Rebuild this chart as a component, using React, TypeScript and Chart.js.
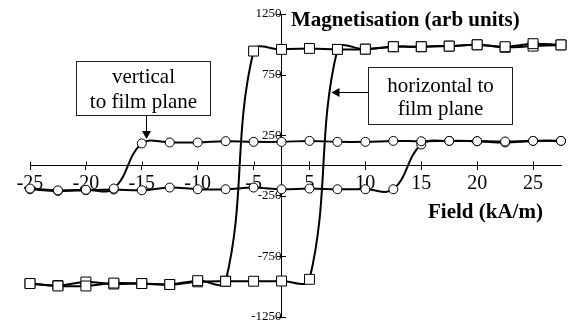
import React, { useEffect, useRef } from 'react';
import { Chart, registerables } from 'chart.js';

Chart.register(...registerables);

// Category positions of the field axis (kA/m), as spaced in the original figure
const FIELD = ['-25', '-22.5', '-20', '-17.5', '-15', '-12.5', '-10', '-7.5', '-5', '0', '5', '7.5', '10', '12.5', '15', '17.5', '20', '22.5', '25', '27.5'];
const FIELD_REVERSED = [...FIELD].reverse();

const Y_MIN = -1250;
const Y_MAX = 1250;
const Y_STEP = 500;

// "horizontal to film plane" (squares): ascending branch in FIELD order
const HORIZ_ASCENDING = [-974, -990, -961, -978, -974, -982, -960, -955, -955, -953, -939, 958, 960, 980, 980, 985, 996, 975, 985, 995];
// descending branch in FIELD_REVERSED order (27.5 -> -25)
const HORIZ_DESCENDING = [995, 1005, 980, 996, 985, 980, 980, 960, 958, 966, 958, 944, -955, -950, -982, -974, -970, -994, -994, -974];

// "vertical to film plane" (circles): ascending branch in FIELD order
const VERT_ASCENDING = [-196, -210, -204, -198, -204, -182, -196, -196, -182, -196, -190, -196, -196, -196, 173, 203, 200, 190, 203, 203];
// descending branch in FIELD_REVERSED order
const VERT_DESCENDING = [203, 203, 198, 201, 203, 200, 203, 195, 195, 203, 195, 195, 201, 190, 190, 182, -190, -200, -205, -190];

const Y_TITLE = 'Magnetisation (arb units)';
const X_TITLE = 'Field (kA/m)';
const NOTE_VERTICAL = ['vertical', 'to film plane'];
const NOTE_HORIZONTAL = ['horizontal to', 'film plane'];

const SERIF = '"Liberation Serif", "Times New Roman", Times, serif';

function arrowHead(ctx: CanvasRenderingContext2D, tipX: number, tipY: number, dir: 'down' | 'left') {
  ctx.beginPath();
  if (dir === 'down') {
    ctx.moveTo(tipX, tipY);
    ctx.lineTo(tipX - 4.5, tipY - 8);
    ctx.lineTo(tipX + 4.5, tipY - 8);
  } else {
    ctx.moveTo(tipX, tipY);
    ctx.lineTo(tipX + 8, tipY - 4.5);
    ctx.lineTo(tipX + 8, tipY + 4.5);
  }
  ctx.closePath();
  ctx.fill();
}

const overlayPlugin = {
  id: 'overlay',
  beforeDatasetsDraw(chart: any) {
    const ctx: CanvasRenderingContext2D = chart.ctx;
    const xs = chart.scales.x;
    const ys = chart.scales.y;
    const axisX = xs.getPixelForValue(FIELD.indexOf('0'));
    const axisY = ys.getPixelForValue(0);
    ctx.save();
    ctx.strokeStyle = '#000';
    ctx.lineWidth = 1;
    ctx.beginPath();
    ys.ticks.forEach((t: any) => {
      const py = Math.round(ys.getPixelForValue(t.value)) + 0.5;
      ctx.moveTo(axisX, py);
      ctx.lineTo(axisX + 4.5, py);
    });
    xs.ticks.forEach((_t: any, i: number) => {
      if (i % 2 !== 0) return;
      const px = Math.round(xs.getPixelForTick(i)) + 0.5;
      ctx.moveTo(px, axisY);
      ctx.lineTo(px, axisY - 4);
    });
    ctx.stroke();
    ctx.restore();
  },
  afterDraw(chart: any) {
    const ctx: CanvasRenderingContext2D = chart.ctx;
    ctx.save();
    ctx.fillStyle = '#000';
    ctx.strokeStyle = '#000';
    ctx.textBaseline = 'alphabetic';

    // axis titles
    ctx.font = `bold 21px ${SERIF}`;
    ctx.textAlign = 'left';
    ctx.fillText(Y_TITLE, 291, 26);
    ctx.fillText(X_TITLE, 428, 218);

    // annotation boxes
    ctx.font = `21px ${SERIF}`;
    ctx.textAlign = 'center';
    ctx.lineWidth = 1;
    ctx.strokeStyle = '#222';
    ctx.strokeRect(76.5, 61.5, 134, 54);
    ctx.fillText(NOTE_VERTICAL[0], 143.5, 83);
    ctx.fillText(NOTE_VERTICAL[1], 143.5, 108);

    ctx.strokeRect(368.5, 67.5, 144, 57);
    ctx.fillText(NOTE_HORIZONTAL[0], 440.5, 92);
    ctx.fillText(NOTE_HORIZONTAL[1], 440.5, 115);

    // arrows
    ctx.strokeStyle = '#000';
    ctx.beginPath();
    ctx.moveTo(146.5, 116);
    ctx.lineTo(146.5, 132);
    ctx.moveTo(368, 92.5);
    ctx.lineTo(339, 92.5);
    ctx.stroke();
    arrowHead(ctx, 146.5, 139, 'down');
    arrowHead(ctx, 331.5, 92.5, 'left');
    ctx.restore();
  },
};

export default function App() {
  const canvasRef = useRef<HTMLCanvasElement | null>(null);

  useEffect(() => {
    if (!canvasRef.current) return;
    const line = {
      borderColor: '#000',
      borderWidth: 2,
      tension: 0.4,
      pointBackgroundColor: '#fff',
      pointBorderColor: '#000',
      pointBorderWidth: 1,
      fill: false,
    };
    const chart = new Chart(canvasRef.current, {
      type: 'line',
      data: {
        labels: FIELD,
        datasets: [
          {
            ...line,
            label: 'vertical descending',
            data: VERT_DESCENDING.map((y, i) => ({ x: FIELD_REVERSED[i], y })),
            pointStyle: 'circle',
            pointRadius: 4.5,
          },
          {
            ...line,
            label: 'vertical ascending',
            data: VERT_ASCENDING.map((y, i) => ({ x: FIELD[i], y })),
            pointStyle: 'circle',
            pointRadius: 4.5,
          },
          {
            ...line,
            label: 'horizontal descending',
            data: HORIZ_DESCENDING.map((y, i) => ({ x: FIELD_REVERSED[i], y })),
            pointStyle: 'rect',
            pointRadius: 7,
          },
          {
            ...line,
            label: 'horizontal ascending',
            data: HORIZ_ASCENDING.map((y, i) => ({ x: FIELD[i], y })),
            pointStyle: 'rect',
            pointRadius: 7,
          },
        ] as any,
      },
      options: {
        animation: false,
        responsive: false,
        layout: { padding: { left: 30, right: 10, top: 14, bottom: 11 } },
        plugins: {
          legend: { display: false },
          tooltip: { enabled: false },
          title: { display: false },
        },
        scales: {
          x: {
            type: 'category',
            offset: false,
            position: { y: 0 } as any,
            border: { display: true, color: '#000', width: 1 },
            grid: {
              drawOnChartArea: false,
              drawTicks: true,
              tickLength: 4,
              lineWidth: 1,
              color: (c: any) => (c.index % 2 === 0 ? '#000' : 'rgba(0,0,0,0)'),
            },
            ticks: {
              autoSkip: false,
              maxRotation: 0,
              padding: 2,
              color: '#000',
              font: { family: SERIF, size: 20 },
              callback: function (this: any, value: any, index: number) {
                return index % 2 === 0 ? this.getLabelForValue(value) : '';
              },
            },
          },
          y: {
            type: 'linear',
            min: Y_MIN,
            max: Y_MAX,
            position: { x: FIELD.indexOf('0') } as any,
            border: { display: true, color: '#000', width: 1 },
            grid: {
              drawOnChartArea: false,
              drawTicks: true,
              tickLength: 4,
              lineWidth: 1,
              color: '#000',
            },
            afterFit: (scale: any) => {
              scale.paddingTop = 6;
              scale.paddingBottom = 6;
            },
            ticks: {
              stepSize: Y_STEP,
              padding: 8,
              color: '#000',
              font: { family: SERIF, size: 13 },
              callback: (value: any) => String(value),
            },
          },
        },
      },
      plugins: [overlayPlugin],
    });
    return () => chart.destroy();
  }, []);

  return (
    <div style={{ position: 'absolute', left: 0, top: 0, width: 571, height: 328, background: '#fff' }}>
      <canvas ref={canvasRef} width={571} height={328} style={{ display: 'block' }} />
    </div>
  );
}
